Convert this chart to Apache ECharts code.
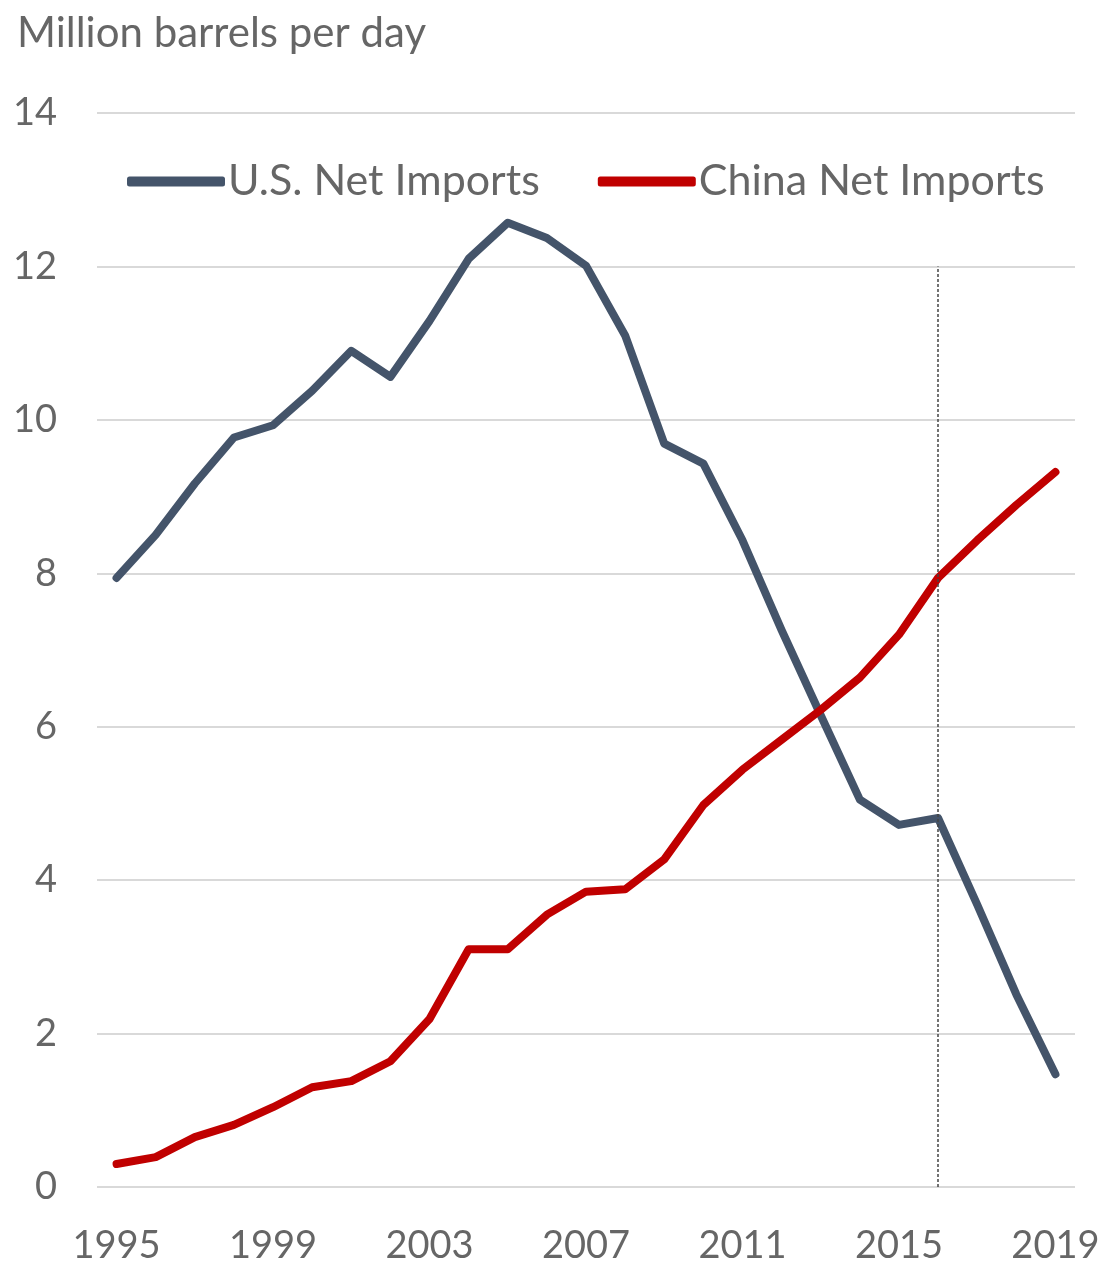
<!DOCTYPE html>
<html>
<head>
<meta charset="utf-8">
<script src="https://cdn.jsdelivr.net/npm/echarts@6/dist/echarts.min.js"></script>
<style>html,body{margin:0;padding:0;background:#fff}#c{width:1105px;height:1265px}</style>
</head>
<body>
<div id="c"></div>
<script>
const years = ['1995','1996','1997','1998','1999','2000','2001','2002','2003','2004','2005','2006','2007','2008','2009','2010','2011','2012','2013','2014','2015','2016','2017','2018','2019'];
const usNetImports = [7.94,8.50,9.17,9.77,9.93,10.38,10.90,10.56,11.29,12.10,12.57,12.37,12.01,11.10,9.69,9.43,8.43,7.26,6.15,5.05,4.72,4.81,3.68,2.51,1.47];
const chinaNetImports = [0.30,0.39,0.65,0.81,1.04,1.30,1.38,1.64,2.19,3.10,3.10,3.55,3.85,3.88,4.27,4.98,5.44,5.83,6.22,6.64,7.20,7.94,8.43,8.89,9.32];
const yTicks = [0,2,4,6,8,10,12,14];
const markerYear = '2016';
const markerTop = 12;

const FONT = 'Lato, "Open Sans", sans-serif';
const chart = echarts.init(document.getElementById('c'), null, {renderer:'canvas'});
chart.setOption({
  animation:false,
  backgroundColor:'#fff',
  title:{text:'Million barrels per day', left:12, top:7,
    textStyle:{fontFamily:FONT, fontSize:42, fontWeight:'normal', color:'#666'}},
  legend:{left:122, top:155, itemWidth:98, itemHeight:10, itemGap:58, icon:'roundRect',
    textStyle:{fontFamily:FONT, fontSize:43, color:'#666', padding:[0,0,0,-2]},
    data:['U.S. Net Imports','China Net Imports']},
  grid:{left:97, right:30, top:113, bottom:78, containLabel:false},
  xAxis:{type:'category', data:years, boundaryGap:true,
    axisLine:{show:false}, axisTick:{show:false},
    axisLabel:{interval:3, margin:40, fontFamily:FONT, fontSize:38, color:'#666'}},
  yAxis:{type:'value', min:yTicks[0], max:yTicks[yTicks.length-1], interval:2,
    axisLine:{show:false}, axisTick:{show:false},
    axisLabel:{margin:40, fontFamily:FONT, fontSize:38, color:'#666'},
    splitLine:{lineStyle:{color:'#d9d9d9', width:2}}},
  series:[
    {name:'U.S. Net Imports', type:'line', data:usNetImports, symbol:'none',
      itemStyle:{color:'#44546A'},
      lineStyle:{color:'#44546A', width:8, cap:'round', join:'round'},
      markLine:{silent:true, symbol:'none', label:{show:false},
        lineStyle:{color:'#444', width:1.5, type:[3,2]},
        data:[[{coord:[markerYear,0]},{coord:[markerYear,markerTop]}]]}},
    {name:'China Net Imports', type:'line', data:chinaNetImports, symbol:'none',
      itemStyle:{color:'#C00000'},
      lineStyle:{color:'#C00000', width:8, cap:'round', join:'round'}}
  ]
});
</script>
</body>
</html>
